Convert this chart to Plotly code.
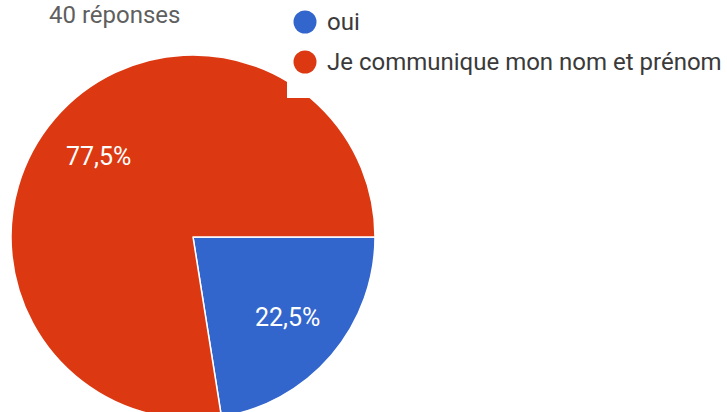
import numpy as np
import plotly.graph_objects as go

# Data
categories = ["oui", "Je communique mon nom et prénom"]
values = [9, 31]
colors = ["#3366cc", "#dc3912"]
total_label = "40 réponses"

W, H = 727, 430
CX, CY, R = 193, 237, 182  # pie centre / radius in pixels (layout)


def px_x(x):
    return x / W


def px_y(y):
    return 1 - y / H


fig = go.Figure()
fig.add_trace(go.Pie(
    labels=categories,
    values=values,
    sort=False,
    direction="clockwise",
    rotation=90,
    marker=dict(colors=colors, line=dict(color="white", width=1.5)),
    textinfo="none",
    showlegend=False,
    hoverinfo="label+percent",
    domain=dict(x=[px_x(CX - R), px_x(CX + R)], y=[px_y(CY + R), px_y(CY - R)]),
))

shapes = [
    dict(type="rect", xref="paper", yref="paper", layer="above",
         x0=px_x(287), x1=1.0, y0=px_y(98), y1=1.0,
         fillcolor="white", line=dict(width=0)),
]
annotations = [
    dict(text=total_label, xref="paper", yref="paper", x=px_x(47), y=1.0,
         xanchor="left", yanchor="top", yshift=1, showarrow=False,
         font=dict(family="Roboto", size=24, color="#5f5f5f")),
]

# percentage labels placed along each slice's bisector
vals = np.array(values, dtype=float)
total = vals.sum()
mids = (np.cumsum(vals) - vals / 2) / total
for frac, v in zip(mids, vals):
    ang = 2 * np.pi * frac  # clockwise from 3 o'clock
    lx = CX + 0.68 * R * np.cos(ang)
    ly = CY + 0.68 * R * np.sin(ang)
    pct = f"{100 * v / total:.1f}".replace(".", ",") + "%"
    annotations.append(dict(text=pct, xref="paper", yref="paper",
                            x=px_x(lx), y=px_y(ly), xanchor="center", yanchor="middle",
                            showarrow=False,
                            font=dict(family="Roboto", size=25, color="white")))

legend_y = [22, 62]
for i, (cat, col) in enumerate(zip(categories, colors)):
    shapes.append(dict(type="circle", xref="paper", yref="paper", layer="above",
                       xsizemode="pixel", ysizemode="pixel",
                       xanchor=px_x(305), yanchor=px_y(legend_y[i]),
                       x0=-11.5, x1=11.5, y0=-11.5, y1=11.5,
                       fillcolor=col, line=dict(width=0)))
    annotations.append(dict(text=cat, xref="paper", yref="paper",
                            x=px_x(325), y=px_y(legend_y[i]),
                            xanchor="left", yanchor="middle", showarrow=False,
                            font=dict(family="Roboto", size=24, color="#3a3a3a")))

fig.update_layout(
    width=W, height=H,
    margin=dict(l=0, r=0, t=0, b=0),
    paper_bgcolor="white",
    plot_bgcolor="white",
    shapes=shapes,
    annotations=annotations,
)

fig.write_html(
    "out.html",
    config={"displayModeBar": False},
    post_script="document.documentElement.style.overflow='hidden';"
                "document.body.style.overflow='hidden';document.body.style.margin='0';",
)
